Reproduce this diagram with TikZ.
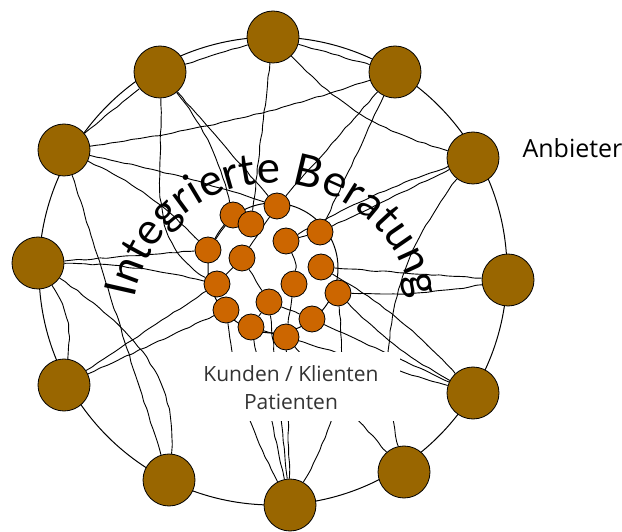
\documentclass[tikz,border=0pt]{standalone}
\usepackage{fontspec}
\setmainfont{Open Sans}
\newfontfamily\bogenschrift{Lato}
\usetikzlibrary{backgrounds,decorations.text,decorations.pathmorphing}
\definecolor{anbieterBraun}{RGB}{153,102,0}
\definecolor{kundeOrange}{RGB}{204,102,0}
\definecolor{textGrau}{RGB}{51,51,51}

\tikzset{
  anbieter/.style={circle, draw=black, line width=0.8pt, fill=anbieterBraun, minimum size=52pt, inner sep=0pt},
  kunde/.style={circle, draw=black, line width=0.8pt, fill=kundeOrange, minimum size=26pt, inner sep=0pt},
  link/.style={line width=0.9pt, decorate, decoration={random steps, segment length=7pt, amplitude=0.6pt}, rounded corners=1pt},
  ring/.style={line width=1pt},
  kundenfeld/.style={fill=white, minimum width=204pt, minimum height=69pt, inner sep=0pt},
}

\begin{document}
\begin{tikzpicture}[x=1pt, y=1pt]
  \pgfmathsetseed{7}
  \useasboundingbox (0,0) rectangle (622,531);

  % Anbieter im Aussenring
  \foreach \n/\x/\y in {a1/273/494, a2/395/459, a3/473/373, a4/508/251, a5/473/138, a6/404/59,
                        a7/290/26, a8/169/51, a9/64/146, a10/38/268, a11/64/381, a12/160/459}
    \node[anbieter] (\n) at (\x,\y) {};

  % Kunden im Innenkreis
  \foreach \n/\x/\y in {k1/233/316, k2/251/307, k3/277/325, k4/320/299, k5/286/290, k6/208/281,
                        k7/242/273, k8/321/264, k9/217/247, k10/294/247, k11/338/238, k12/226/221,
                        k13/269/229, k14/312/212, k15/251/204, k16/286/194}
    \node[kunde] (\n) at (\x,\y) {};

  \coordinate (mitteAussen) at (273,260);
  \coordinate (mitteInnen) at (273,263);
  \coordinate (bogen) at (273,207);

  \begin{pgfonlayer}{background}
    \draw[ring] (mitteAussen) circle[radius=234];
    \draw[ring] (mitteInnen) circle[radius=65];

    % Anbieter untereinander
    \draw[link] (a11) -- (a12);
    \draw[link] (a12) -- (a1);
    \draw[link] (a1) -- (a2);
    \draw[link] (a10) to[bend left=20] (a9);
    \draw[link] (a11) -- (a8);
    \draw[link] (a11) to[bend right=5] (a2);
    \draw[link] (a1) to[bend right=15] (a3);
    \draw[link] (a10) to[out=-35, in=85] (a8);
    \draw[link] (a3) to[bend right=25] (a6);

    % Anbieter zu Kunden
    \draw[link] (a1) -- (k2);
    \draw[link] (a12) to[bend left=12] (k1);
    \draw[link] (a12) -- (k3);
    \draw[link] (a12) to[out=-88, in=150] (k9);
    \draw[link] (a11) to[bend left=3] (k3);
    \draw[link] (a11) to[bend left=10] (k6);
    \draw[link] (a10) -- (k6);
    \draw[link] (a10) to[bend left=6] (k9);
    \draw[link] (a9) -- (k9);
    \draw[link] (a9) -- (k12);
    \draw[link] (k12) to[bend right=10] (a7);
    \draw[link] (k15) -- (a7);
    \draw[link] (k16) -- (a7);
    \draw[link] (k13) -- (a7);
    \draw[link] (k11) to[out=-85, in=60] (a7);
    \draw[link] (k16) -- (a6);
    \draw[link] (k15) -- (a5);
    \draw[link] (k14) -- (a5);
    \draw[link] (k11) to[bend right=8] (a5);
    \draw[link] (k8) to[bend left=8] (a5);
    \draw[link] (k8) -- (a4);
    \draw[link] (k11) to[bend right=6] (a4);
    \draw[link] (k4) -- (a3);
    \draw[link] (k5) to[bend left=5] (a3);
    \draw[link] (a2) -- (k4);
    \draw[link] (a2) -- (k3);

    % Kunden untereinander
    \draw[link] (k7) -- (k3);
    \draw[link] (k5) -- (k4);
    \draw[link] (k5) to[bend left=15] (k10);
    \draw[link] (k7) -- (k13);
    \draw[link] (k7) -- (k9);
    \draw[link] (k13) -- (k14);
    \draw[link] (k13) -- (k15);
    \draw[link] (k10) -- (k16);
    \draw[link] (k1) -- (k6);
  \end{pgfonlayer}

  \node[kundenfeld] (kundenfeld) at (298,144) {};
  \node[text=textGrau, font=\fontsize{21}{28}\selectfont, align=center] (kunden) at (291,143)
    {Kunden / Klienten\\Patienten};
  \node[anchor=base west, font=\fontsize{25}{30}\selectfont] (anbieterText) at (519,373) {Anbieter};

  \path[decorate, decoration={text along path, text align=center,
      text={|\bogenschrift\fontsize{44}{44}\selectfont|Integrierte Beratung}}]
    (bogen) ++(172:141) arc[start angle=172, end angle=8, radius=141];
\end{tikzpicture}
\end{document}
